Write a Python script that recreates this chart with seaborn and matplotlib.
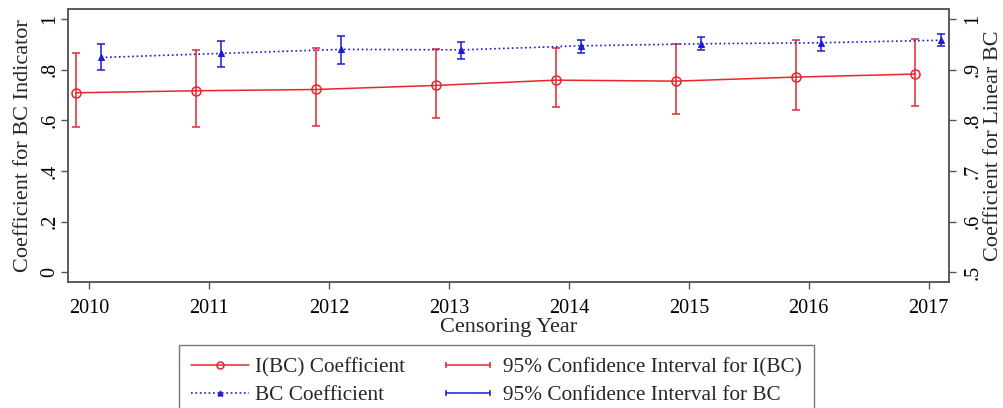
import numpy as np
import pandas as pd
import matplotlib
matplotlib.use("Agg")
import matplotlib.pyplot as plt
import seaborn as sns
from matplotlib.lines import Line2D
from matplotlib.legend_handler import HandlerLine2D

# ---- data ----
years = [2010, 2011, 2012, 2013, 2014, 2015, 2016, 2017]
ibc_coef = [0.709, 0.717, 0.722, 0.738, 0.759, 0.755, 0.771, 0.783]
ibc_lo = [0.575, 0.574, 0.578, 0.610, 0.651, 0.625, 0.643, 0.655]
ibc_hi = [0.868, 0.879, 0.887, 0.883, 0.884, 0.901, 0.916, 0.921]
bc_coef = [0.924, 0.932, 0.940, 0.939, 0.947, 0.951, 0.953, 0.958]
bc_lo = [0.899, 0.905, 0.911, 0.920, 0.932, 0.938, 0.937, 0.947]
bc_hi = [0.950, 0.957, 0.967, 0.955, 0.959, 0.964, 0.965, 0.970]
left_ticks = [0, 0.2, 0.4, 0.6, 0.8, 1.0]
left_ticklabels = ["0", ".2", ".4", ".6", ".8", "1"]
right_ticks = [0.5, 0.6, 0.7, 0.8, 0.9, 1.0]
right_ticklabels = [".5", ".6", ".7", ".8", ".9", "1"]

RED = "#e8262c"
BLUE = "#1c1cd6"
SPINE = "#555555"

sns.set_theme(style="white")
plt.rcParams["font.family"] = ["Liberation Serif", "DejaVu Serif"]

fig = plt.figure(figsize=(10.04, 4.08), dpi=100)
ax = fig.add_axes([0.0674, 0.3096, 0.8778, 0.6684])
ax2 = ax.twinx()

yrs = np.array(years, dtype=float)
x_red = yrs - 0.11
x_blue = yrs + 0.10

df_red = pd.DataFrame({"x": x_red, "y": ibc_coef})
df_blue = pd.DataFrame({"x": x_blue, "y": bc_coef})

ibc = np.array(ibc_coef); bc = np.array(bc_coef)
ax.errorbar(x_red, ibc, yerr=[ibc - np.array(ibc_lo), np.array(ibc_hi) - ibc],
            fmt="none", ecolor=RED, elinewidth=1.1, capsize=2.6, capthick=1.1, zorder=2)
sns.lineplot(data=df_red, x="x", y="y", ax=ax, color=RED, lw=1.1, marker="o",
             markersize=6.5, markerfacecolor="none", markeredgecolor=RED,
             markeredgewidth=1.1, legend=False, zorder=3)

ax2.errorbar(x_blue, bc, yerr=[bc - np.array(bc_lo), np.array(bc_hi) - bc],
             fmt="none", ecolor=BLUE, elinewidth=1.1, capsize=2.6, capthick=1.1, zorder=2)
sns.lineplot(data=df_blue, x="x", y="y", ax=ax2, color=BLUE, lw=1.2, linestyle=":",
             marker="^", markersize=4.5, markerfacecolor=BLUE, markeredgecolor=BLUE,
             legend=False, zorder=3)

ax.set_xlim(2009.82, 2017.17)
ax.set_ylim(-0.037, 1.04)
ax2.set_ylim(0.4815, 1.0197)

ax.set_xticks(years)
ax.set_xticklabels([str(y) for y in years], fontsize=14.5)
ax.set_yticks(left_ticks)
ax.set_yticklabels(left_ticklabels, fontsize=14.5, rotation=90, va="center")
ax2.set_yticks(right_ticks)
ax2.set_yticklabels(right_ticklabels, fontsize=14.5, rotation=90, va="center")

for a in (ax, ax2):
    a.tick_params(axis="both", which="major", direction="out", length=5, width=1,
                  color=SPINE, labelcolor="black")
    for s in a.spines.values():
        s.set_color(SPINE)
        s.set_linewidth(1.1)
ax.tick_params(axis="y", left=True, right=False, pad=0.8)
ax.tick_params(axis="x", bottom=True, pad=7.2)
ax2.tick_params(axis="y", right=True, left=False, pad=5.5)

ax.set_xlabel("Censoring Year", fontsize=16, labelpad=0)
ax.set_ylabel("Coefficient for BC Indicator", fontsize=16, va="center")
ax.yaxis.set_label_coords(-0.0505, 0.5)
ax2.set_ylabel("Coefficient for Linear BC", fontsize=16, rotation=90, va="center")
ax2.yaxis.set_label_coords(1.051, 0.5)

h1 = Line2D([], [], color=RED, lw=1.1, marker="o", markersize=5, markerfacecolor="none",
            markeredgecolor=RED, markeredgewidth=1.1)
h2 = Line2D([], [], color=BLUE, lw=1.2, linestyle=":", marker="^", markersize=3.5,
            markerfacecolor=BLUE, markeredgecolor=BLUE)
h3 = Line2D([], [], color=RED, lw=1.1, marker="|", markersize=4, markeredgewidth=1.1)
h4 = Line2D([], [], color=BLUE, lw=1.1, marker="|", markersize=4, markeredgewidth=1.1)

leg = fig.legend([h1, h2, h3, h4],
                 ["I(BC) Coefficient", "BC Coefficient",
                  "95% Confidence Interval for I(BC)", "95% Confidence Interval for BC"],
                 ncol=2, loc="upper center", bbox_to_anchor=(0.4945, 0.1544),
                 borderaxespad=0,
                 fontsize=15.3, frameon=True, fancybox=False, framealpha=1,
                 edgecolor="#777777", handlelength=2.7, handletextpad=0.3,
                 columnspacing=1.6, labelspacing=0.36, borderpad=0.6,
                 numpoints=1,
                 handler_map={h3: HandlerLine2D(numpoints=2), h4: HandlerLine2D(numpoints=2)})
leg.get_frame().set_linewidth(1.0)

fig.savefig("out.png", dpi=100)
